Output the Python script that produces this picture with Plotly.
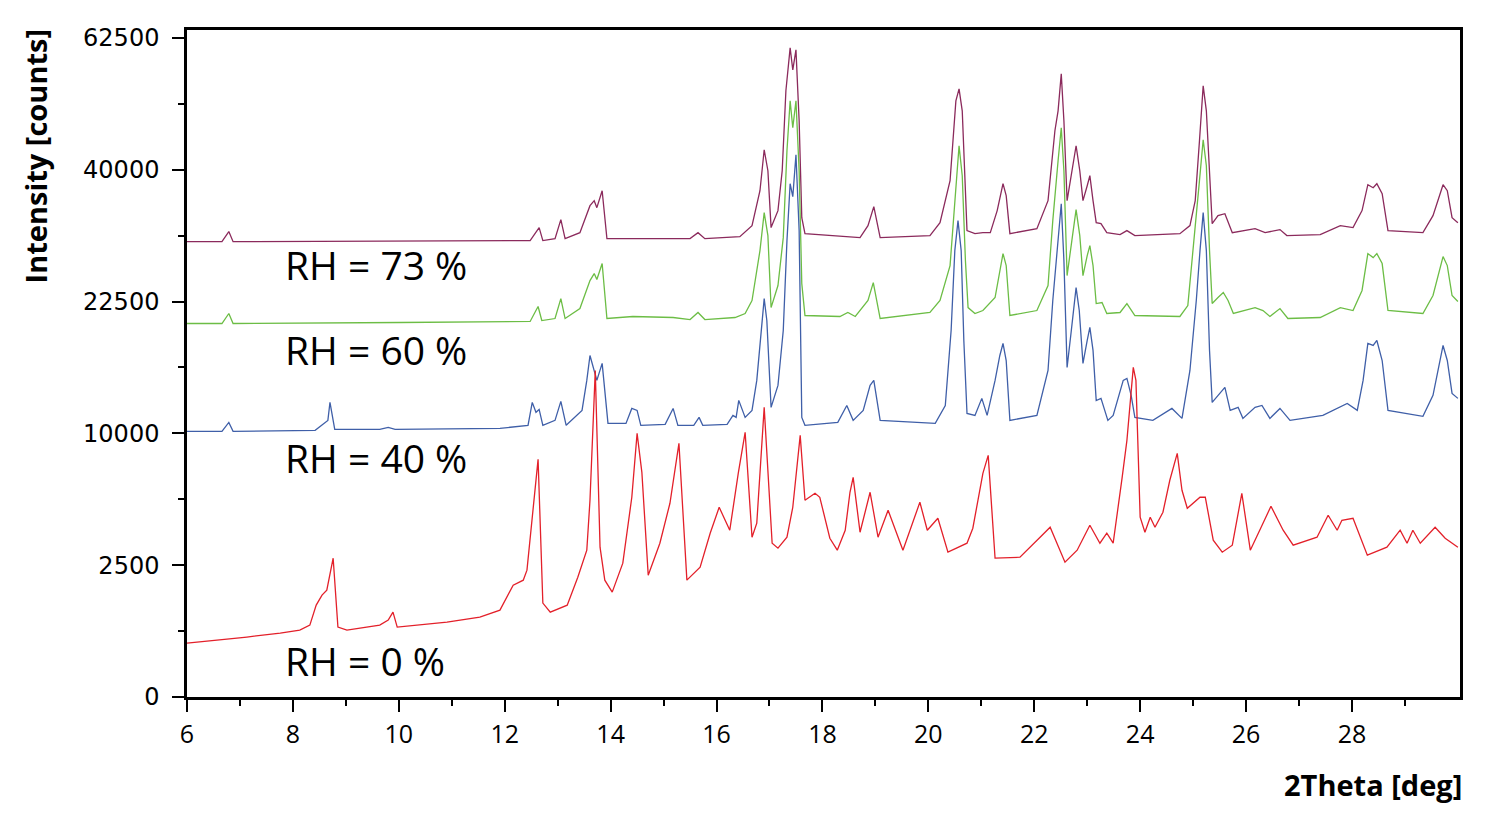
import numpy as np
import plotly.graph_objects as go

# ---------------- data (2Theta in deg, intensity in counts) ----------------
tt_73 = [6.00,6.66,6.79,6.87,12.48,12.65,12.72,12.95,13.06,13.14,13.42,13.61,13.69,13.74,13.84,13.93,15.50,15.65,15.78,16.44,
         16.67,16.82,16.90,16.97,17.03,17.16,17.24,17.31,17.39,17.44,17.50,17.56,17.61,17.67,18.71,18.86,18.97,19.09,20.03,20.22,
         20.41,20.52,20.58,20.64,20.73,20.88,21.03,21.17,21.30,21.41,21.47,21.54,22.05,22.26,22.39,22.45,22.51,22.56,22.62,22.71,
         22.79,22.86,22.92,23.00,23.05,23.11,23.17,23.26,23.37,23.62,23.75,23.90,24.75,24.94,25.04,25.12,25.19,25.25,25.31,25.36,
         25.47,25.60,25.74,25.98,26.17,26.36,26.64,26.77,27.40,27.78,28.02,28.19,28.30,28.40,28.47,28.57,28.68,29.34,29.53,29.72,
         29.80,29.89,30.00]
int_73 = [29830,29830,31160,29830,29970,31700,29970,30230,32790,30230,31020,34730,35440,34450,36880,30230,30230,31020,30230,30490,
          31970,36880,43090,39850,31700,34030,39850,52870,60620,56590,60250,47770,33060,30890,30360,31970,34590,30360,30630,32370,
          38350,51130,53220,49440,31300,30890,31020,31020,34040,37910,36160,30890,31560,35450,46130,49440,55870,47770,35450,39850,
          43720,39850,35450,37610,39100,35450,32370,32240,31020,30760,31300,30630,30890,31970,35450,44520,53740,49440,38360,32240,
          33340,33610,31020,31300,31560,31020,31430,30630,30760,31970,31700,34040,37760,37320,37910,36450,31300,31020,33340,37760,
          36880,33060,32370]

tt_60 = [6.00,6.66,6.79,6.87,10.02,12.48,12.63,12.70,12.95,13.06,13.14,13.42,13.61,13.69,13.74,13.84,13.93,14.42,15.18,15.50,
         15.65,15.78,16.35,16.54,16.67,16.82,16.90,16.97,17.03,17.16,17.26,17.33,17.39,17.44,17.50,17.56,17.61,17.67,18.33,18.48,
         18.62,18.86,18.96,19.09,20.03,20.22,20.41,20.50,20.58,20.64,20.70,20.75,20.88,21.03,21.26,21.41,21.47,21.54,22.05,22.26,
         22.35,22.45,22.51,22.56,22.62,22.71,22.79,22.86,22.92,23.00,23.05,23.11,23.17,23.28,23.37,23.62,23.75,23.90,24.75,24.90,
         25.04,25.12,25.19,25.25,25.31,25.36,25.47,25.57,25.66,25.76,26.17,26.32,26.45,26.64,26.79,27.40,27.78,28.02,28.19,28.30,
         28.40,28.47,28.57,28.68,29.34,29.53,29.72,29.80,29.89,30.00]
int_60 = [20070,20070,21160,20070,20180,20290,21940,20390,20610,22840,20610,21710,24950,25800,25070,27030,20610,20830,20720,20500,
          21270,20500,20720,21160,22620,28670,33750,30630,21820,24360,30360,42930,51140,46620,51140,39850,24590,20940,20830,21270,
          20830,22620,24710,20610,21270,22620,26780,35450,43720,39100,27400,21820,21160,21490,22960,28290,26780,20940,21490,24360,
          32650,41380,46620,39850,25550,29970,34170,30630,25550,28030,29310,26780,22270,22390,21160,21270,22270,20940,20830,22050,
          31300,38360,44680,40610,28670,22270,22960,23540,22620,21160,21820,21490,20830,21710,20610,20720,21820,21490,23780,28290,
          27780,28290,27030,21490,21160,23190,27910,26780,23190,22500]

tt_40 = [6.00,6.66,6.79,6.87,8.42,8.55,8.66,8.70,8.74,8.79,9.64,9.80,9.93,11.91,12.44,12.52,12.59,12.65,12.72,12.95,
         13.06,13.16,13.46,13.55,13.61,13.69,13.74,13.84,13.89,13.95,14.29,14.40,14.50,14.57,15.03,15.18,15.27,15.57,15.67,15.74,
         16.20,16.31,16.37,16.42,16.54,16.67,16.76,16.84,16.90,16.95,17.03,17.16,17.26,17.33,17.39,17.44,17.50,17.56,17.61,17.67,
         18.29,18.46,18.58,18.77,18.90,18.97,19.09,20.13,20.32,20.43,20.50,20.56,20.62,20.67,20.73,20.88,21.01,21.11,21.26,21.35,
         21.41,21.47,21.54,22.05,22.26,22.35,22.45,22.51,22.56,22.62,22.70,22.79,22.85,22.92,23.00,23.05,23.11,23.17,23.26,23.39,
         23.49,23.68,23.75,23.83,23.90,24.24,24.60,24.79,24.94,25.06,25.13,25.19,25.25,25.31,25.36,25.47,25.60,25.70,25.85,25.94,
         26.17,26.30,26.45,26.64,26.83,27.45,27.91,28.10,28.21,28.30,28.40,28.47,28.57,28.68,29.34,29.53,29.72,29.80,29.89,30.00]
int_40 = [10150,10150,10850,10150,10230,10620,11000,12490,11500,10300,10310,10460,10310,10380,10620,12490,11660,11900,10620,11010,
          12570,10620,11820,14420,16780,15340,14420,16010,13520,10770,10770,11980,11820,10620,10700,11980,10620,10620,11250,10620,
          10700,11410,11250,12660,11250,11820,14420,19330,22840,20390,12070,13970,19330,29970,37910,36010,42310,31300,11250,10620,
          10850,12230,11010,11820,13970,14420,11010,10770,12230,19330,28670,32650,28670,18290,11570,11410,12830,11410,14420,16780,
          17980,16290,11010,11410,15340,22620,29970,35010,27410,15630,19330,24120,21490,16010,18290,19650,17280,12650,12830,11010,
          11410,14420,14600,13090,11250,11010,11980,11170,15340,22620,28670,33750,28670,17280,12490,13090,13790,11820,12070,11170,
          12070,12230,11170,11980,11010,11410,12400,11820,14420,17980,17780,18290,16290,11820,11330,13090,17780,16290,13260,12830]

tt_0 = [6.00,6.62,7.13,7.76,8.13,8.32,8.44,8.55,8.64,8.76,8.85,9.02,9.64,9.80,9.89,9.97,10.91,11.53,11.91,12.16,
        12.35,12.42,12.52,12.55,12.63,12.72,12.86,13.18,13.38,13.55,13.61,13.71,13.80,13.89,14.03,14.23,14.40,14.50,14.59,14.71,
        14.93,15.12,15.29,15.44,15.69,15.88,16.05,16.25,16.41,16.54,16.67,16.76,16.90,17.05,17.16,17.33,17.44,17.58,17.67,17.86,
        17.95,18.14,18.28,18.43,18.52,18.58,18.71,18.90,19.05,19.24,19.52,19.84,19.98,20.18,20.37,20.73,20.84,21.03,21.13,21.26,
        21.73,22.11,22.30,22.58,22.81,23.05,23.24,23.37,23.49,23.66,23.75,23.87,23.92,24.00,24.09,24.19,24.28,24.43,24.56,24.70,
        24.79,24.89,25.13,25.23,25.38,25.55,25.74,25.92,26.08,26.32,26.47,26.70,26.89,27.34,27.55,27.72,27.81,28.02,28.29,28.66,
        28.91,29.04,29.15,29.29,29.57,29.76,30.00]
int_0 = [418,466,517,588,644,744,1214,1493,1643,2772,703,644,744,851,1037,703,807,918,1086,1800,
         1964,2314,4649,5290,8128,1268,1037,1214,2066,3101,5569,15340,3228,1964,1582,2576,5741,10000,7264,2136,
         3403,5401,9257,1964,2425,3859,5180,4002,7200,10080,3673,4344,12070,3403,3186,3673,5180,9849,5569,5971,
         5741,3627,3101,4002,6030,6944,3906,6030,3673,5018,3101,5456,4002,4597,3017,3403,4098,7200,8404,2772,
         2812,3673,4147,2615,3101,4245,3403,3859,3403,6944,9477,15630,14420,4649,3906,4649,4147,4911,6758,8543,
         6149,5126,5741,5741,3537,3017,3315,5971,3101,4344,5235,4002,3315,3673,4753,4002,4495,4597,2894,3228,
         4002,3403,4002,3403,4147,3627,3228]

series_names = ["RH = 73 %", "RH = 60 %", "RH = 40 %", "RH = 0 %"]
series_tt = [tt_73, tt_60, tt_40, tt_0]
series_int = [int_73, int_60, int_40, int_0]
series_colors = ["#8b2a5c", "#6cbd45", "#3f5fa8", "#e3202a"]

y_tick_counts = [0, 2500, 10000, 22500, 40000, 62500]
x_tick_vals = [6, 8, 10, 12, 14, 16, 18, 20, 22, 24, 26, 28]
x_minor_vals = [7, 9, 11, 13, 15, 17, 19, 21, 23, 25, 27, 29]

# label positions (paper coords)
label_pos = [(0.0755, 0.6477), (0.0755, 0.5217), (0.0755, 0.3598), (0.0755, 0.054)]

# ---------------- figure (square-root intensity axis) ----------------
fig = go.Figure()
for name, tt, it, col in zip(series_names, series_tt, series_int, series_colors):
    fig.add_trace(go.Scatter(x=tt, y=np.sqrt(np.array(it, dtype=float)), mode="lines",
                             name=name, line=dict(color=col, width=1.3), showlegend=False))

sq_ticks = np.sqrt(np.array(y_tick_counts, dtype=float))
sq_minor = (sq_ticks[:-1] + sq_ticks[1:]) / 2

fig.update_layout(
    width=1507, height=816,
    margin=dict(l=187, r=47, t=30, b=119),
    paper_bgcolor="white", plot_bgcolor="white",
    showlegend=False,
)
fig.update_xaxes(
    range=[6, 30.04], showgrid=False, zeroline=False,
    showline=True, linecolor="black", linewidth=2.5, mirror=True,
    ticks="outside", ticklen=12, tickwidth=1.5, tickcolor="black",
    tickvals=x_tick_vals, ticktext=[str(v) for v in x_tick_vals],
    tickfont=dict(family="Open Sans, sans-serif", size=25, color="black"),
    ticklabelstandoff=1,
    minor=dict(tickvals=x_minor_vals, ticks="outside", ticklen=6, tickwidth=1.5, tickcolor="black"),
)
fig.update_yaxes(
    range=[0, 253], showgrid=False, zeroline=False,
    showline=True, linecolor="black", linewidth=2.5, mirror=True,
    ticks="outside", ticklen=12, tickwidth=1.5, tickcolor="black",
    tickvals=list(sq_ticks), ticktext=[str(v) for v in y_tick_counts],
    tickfont=dict(family="DejaVu Sans, Verdana, sans-serif", size=24, color="black"),
    ticklabelstandoff=8,
    minor=dict(tickvals=list(sq_minor), ticks="outside", ticklen=6, tickwidth=1.5, tickcolor="black"),
)

annotations = []
for name, (px, py) in zip(series_names, label_pos):
    annotations.append(dict(text=name, x=px, y=py, xref="paper", yref="paper",
                            xanchor="left", yanchor="middle", showarrow=False,
                            font=dict(family="Open Sans, sans-serif", size=39, color="black")))
annotations.append(dict(text="<b>Intensity [counts]</b>", x=-0.1194, y=0.8104, xref="paper", yref="paper",
                        xanchor="center", yanchor="middle", textangle=-90, showarrow=False,
                        font=dict(family="Open Sans, sans-serif", size=29, color="black")))
annotations.append(dict(text="<b>2Theta [deg]</b>", x=1.003, y=-0.131, xref="paper", yref="paper",
                        xanchor="right", yanchor="middle", showarrow=False,
                        font=dict(family="Open Sans, sans-serif", size=29, color="black")))
fig.update_layout(annotations=annotations)

fig.write_html("out.html")
